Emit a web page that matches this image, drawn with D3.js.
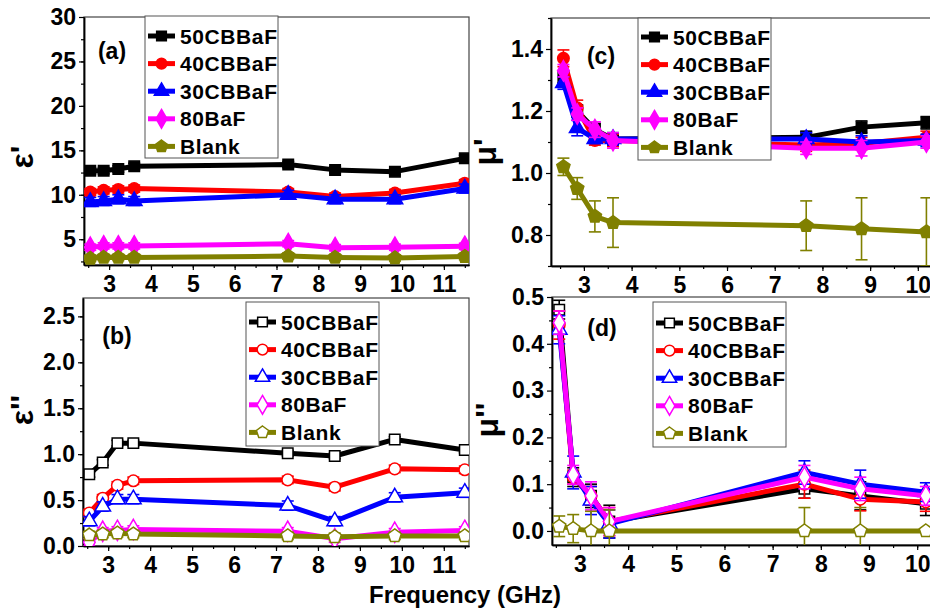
<!DOCTYPE html>
<html>
<head>
<meta charset="utf-8">
<script src="https://cdn.jsdelivr.net/npm/d3@7"></script>
<style>
  body { margin: 0; background: #fff; }
  svg text { font-family: Arial, "Liberation Sans", sans-serif; font-weight: bold; }
</style>
</head>
<body>
<div id="vis"></div>
<script>
// ---- data ----
const seriesNames = ["50CBBaF", "40CBBaF", "30CBBaF", "80BaF", "Blank"];
const seriesColors = ["#000000", "#ff0000", "#0000ff", "#ff00ff", "#808000"];

// frequencies (GHz)
const freqEps = [2.55, 2.87, 3.22, 3.6, 7.28, 8.4, 9.83, 11.5];
const freqMu = [2.57, 2.86, 3.23, 3.61, 7.66, 8.82, 10.18];

// (a) eps'
const epsReal = [
  [12.7, 12.7, 12.9, 13.2, 13.4, 12.8, 12.6, 14.1],
  [10.3, 10.5, 10.6, 10.7, 10.3, 9.8, 10.2, 11.3],
  [9.2, 9.3, 9.5, 9.3, 10.0, 9.5, 9.5, 10.7],
  [4.1, 4.25, 4.25, 4.25, 4.5, 4.05, 4.1, 4.2],
  [2.85, 2.95, 2.95, 2.95, 3.1, 2.95, 2.9, 3.05]
];
const epsRealErr = [
  [0.35, 0.35, 0.35, 0.35, 0.35, 0.35, 0.35, 0.35],
  [0.4, 0.4, 0.4, 0.4, 0.4, 0.4, 0.4, 0.4],
  [0.5, 0.5, 0.5, 0.5, 0.5, 0.5, 0.5, 0.5],
  [0.35, 0.35, 0.35, 0.35, 0.35, 0.35, 0.35, 0.35],
  [0.35, 0.35, 0.35, 0.35, 0.35, 0.35, 0.35, 0.35]
];

// (b) eps''
const epsImag = [
  [0.78, 0.91, 1.12, 1.12, 1.01, 0.98, 1.16, 1.045],
  [0.36, 0.52, 0.66, 0.71, 0.72, 0.64, 0.84, 0.83],
  [0.27, 0.43, 0.51, 0.51, 0.44, 0.27, 0.53, 0.58],
  [0.04, 0.16, 0.17, 0.18, 0.16, 0.08, 0.15, 0.17],
  [0.12, 0.13, 0.14, 0.13, 0.11, 0.10, 0.11, 0.11]
];
const epsImagErr = [
  [0.03, 0.03, 0.03, 0.03, 0.03, 0.03, 0.03, 0.03],
  [0.04, 0.04, 0.04, 0.04, 0.04, 0.04, 0.04, 0.04],
  [0.05, 0.05, 0.05, 0.05, 0.05, 0.05, 0.05, 0.05],
  [0.04, 0.04, 0.04, 0.04, 0.04, 0.04, 0.04, 0.04],
  [0.04, 0.04, 0.04, 0.04, 0.04, 0.04, 0.04, 0.04]
];

// (c) mu'
const muReal = [
  [1.31, 1.20, 1.14, 1.11, 1.115, 1.148, 1.162],
  [1.37, 1.21, 1.105, 1.105, 1.09, 1.095, 1.115],
  [1.29, 1.145, 1.11, 1.11, 1.11, 1.10, 1.105],
  [1.33, 1.19, 1.14, 1.105, 1.08, 1.08, 1.10],
  [1.02, 0.95, 0.86, 0.84, 0.83, 0.82, 0.81]
];
const muRealErr = [
  [0.02, 0.02, 0.02, 0.02, 0.02, 0.02, 0.02],
  [0.027, 0.025, 0.015, 0.02, 0.02, 0.02, 0.02],
  [0.02, 0.025, 0.015, 0.02, 0.02, 0.02, 0.02],
  [0.02, 0.02, 0.025, 0.025, 0.02, 0.025, 0.02],
  [0.028, 0.035, 0.05, 0.08, 0.08, 0.1, 0.11]
];

// (d) mu''
const muImag = [
  [0.473, 0.115, 0.075, 0.02, 0.09, 0.075, 0.058],
  [0.44, 0.115, 0.075, 0.02, 0.10, 0.068, 0.062],
  [0.43, 0.125, 0.065, 0.015, 0.125, 0.10, 0.083],
  [0.445, 0.12, 0.075, 0.02, 0.115, 0.09, 0.075],
  [0.01, 0.005, 0.0, 0.0, 0.0, 0.0, 0.0]
];
const muImagErr = [
  [0.02, 0.02, 0.025, 0.035, 0.02, 0.03, 0.025],
  [0.03, 0.015, 0.02, 0.03, 0.03, 0.025, 0.02],
  [0.03, 0.035, 0.03, 0.03, 0.025, 0.03, 0.02],
  [0.025, 0.02, 0.03, 0.03, 0.025, 0.025, 0.02],
  [0.022, 0.03, 0.042, 0.045, 0.05, 0.05, 0]
];

// ---- layout ----
const W = 930, H = 612;

const symbolPentagon = {
  draw(ctx, size) {
    const r = Math.sqrt(size / 2.378);
    for (let i = 0; i < 5; i++) {
      const a = -Math.PI / 2 + i * 2 * Math.PI / 5;
      if (i === 0) ctx.moveTo(r * Math.cos(a), r * Math.sin(a));
      else ctx.lineTo(r * Math.cos(a), r * Math.sin(a));
    }
    ctx.closePath();
  }
};
const symbolTypes = [d3.symbolSquare, d3.symbolCircle, d3.symbolTriangle, d3.symbolDiamond, symbolPentagon];
const symbolSizes = [110, 105, 105, 120, 115];

const panels = [
  { id: "a", x0: 84, x1: 469, y0: 17, y1: 265, xd: [2.4, 11.6], yd: [2.1, 30],
    yMajor: d3.range(5, 30.1, 5), yMinor: d3.range(2.5, 30, 2.5), yFmt: d3.format("d"),
    xMajor: d3.range(3, 12, 1), xMinor: d3.range(2.5, 11.6, 0.5),
    freq: freqEps, vals: epsReal, errs: epsRealErr, open: false,
    label: "(a)", lx: 112, ly: 59, yl: "\u03b5'", ylx: 33, yly: 157,
    leg: { x: 145, y: 16, w: 133, h: 142, first: 36 } },
  { id: "b", x0: 83, x1: 469, y0: 298, y1: 546, xd: [2.4, 11.6], yd: [0, 2.7],
    yMajor: d3.range(0, 2.51, 0.5), yMinor: d3.range(0.25, 2.7, 0.25), yFmt: d3.format(".1f"),
    xMajor: d3.range(3, 12, 1), xMinor: d3.range(2.5, 11.6, 0.5),
    freq: freqEps, vals: epsImag, errs: epsImagErr, open: true,
    label: "(b)", lx: 117, ly: 344, yl: "\u03b5''", ylx: 33, yly: 410,
    leg: { x: 246, y: 302, w: 133, h: 144, first: 322 } },
  { id: "c", x0: 551, x1: 935, y0: 18, y1: 266, xd: [2.31, 10.36], yd: [0.7, 1.5],
    yMajor: [0.8, 1.0, 1.2, 1.4], yMinor: [0.7, 0.9, 1.1, 1.3, 1.5], yFmt: d3.format(".1f"),
    xMajor: d3.range(3, 11, 1), xMinor: d3.range(2.5, 10.4, 0.5),
    freq: freqMu, vals: muReal, errs: muRealErr, open: false,
    label: "(c)", lx: 601, ly: 64, yl: "\u03bc'", ylx: 496, yly: 152,
    leg: { x: 638, y: 18, w: 133, h: 142, first: 37 } },
  { id: "d", x0: 552, x1: 935, y0: 297, y1: 545, xd: [2.42, 10.37], yd: [-0.03, 0.5],
    yMajor: d3.range(0, 0.51, 0.1), yMinor: d3.range(0.05, 0.5, 0.1), yFmt: d3.format(".1f"),
    xMajor: d3.range(3, 11, 1), xMinor: d3.range(2.5, 10.4, 0.5),
    freq: freqMu, vals: muImag, errs: muImagErr, open: true,
    label: "(d)", lx: 602, ly: 336, yl: "\u03bc''", ylx: 498, yly: 420,
    leg: { x: 653, y: 302, w: 133, h: 145, first: 323 } }
];

const svg = d3.select("#vis").append("svg")
  .attr("width", W).attr("height", H);

svg.append("rect").attr("width", W).attr("height", H).attr("fill", "#fff");

panels.forEach((p) => {
  const x = d3.scaleLinear().domain(p.xd).range([p.x0, p.x1]);
  const y = d3.scaleLinear().domain(p.yd).range([p.y1, p.y0]);
  const g = svg.append("g").attr("class", "panel-" + p.id);

  // clip for data
  svg.append("clipPath").attr("id", "clip-" + p.id)
    .append("rect").attr("x", p.x0).attr("y", p.y0)
    .attr("width", p.x1 - p.x0).attr("height", p.y1 - p.y0);

  // frame
  g.append("rect")
    .attr("x", p.x0).attr("y", p.y0)
    .attr("width", p.x1 - p.x0).attr("height", p.y1 - p.y0)
    .attr("fill", "none").attr("stroke", "#444").attr("stroke-width", 1.2);

  // axes
  const yAxis = g.append("g").attr("transform", "translate(" + p.x0 + ",0)")
    .call(d3.axisLeft(y).tickValues(p.yMajor).tickFormat(p.yFmt).tickSize(5).tickSizeOuter(0).tickPadding(3));
  const yMin = g.append("g").attr("transform", "translate(" + p.x0 + ",0)")
    .call(d3.axisLeft(y).tickValues(p.yMinor).tickFormat("").tickSize(3).tickSizeOuter(0));
  const xAxis = g.append("g").attr("transform", "translate(0," + p.y1 + ")")
    .call(d3.axisBottom(x).tickValues(p.xMajor).tickFormat(d3.format("d")).tickSize(5).tickSizeOuter(0).tickPadding(6));
  const xMin = g.append("g").attr("transform", "translate(0," + p.y1 + ")")
    .call(d3.axisBottom(x).tickValues(p.xMinor).tickFormat("").tickSize(3).tickSizeOuter(0));

  [yAxis, yMin, xAxis, xMin].forEach((a) => {
    a.select(".domain").attr("stroke", "#000").attr("stroke-width", 1.5);
    a.selectAll(".tick line").attr("stroke", "#000").attr("stroke-width", 1.2);
    a.selectAll(".tick text").attr("font-size", 23).attr("fill", "#000")
      .attr("font-family", "Arial, 'Liberation Sans', sans-serif").attr("font-weight", "bold");
  });

  // data
  const data = g.append("g").attr("clip-path", "url(#clip-" + p.id + ")");
  const line = d3.line().x((d) => x(d.f)).y((d) => y(d.v));

  seriesNames.forEach((name, si) => {
    const pts = p.freq.map((f, i) => ({ f: f, v: p.vals[si][i], e: p.errs[si][i] }));
    const col = seriesColors[si];
    const sg = data.append("g").attr("class", "series");

    // error bars
    const eb = sg.selectAll("g.err").data(pts.filter((d) => d.e > 0)).join("g").attr("class", "err")
      .attr("stroke", col).attr("stroke-width", 1.6);
    eb.append("line")
      .attr("x1", (d) => x(d.f)).attr("x2", (d) => x(d.f))
      .attr("y1", (d) => y(d.v - d.e)).attr("y2", (d) => y(d.v + d.e));
    eb.append("line")
      .attr("x1", (d) => x(d.f) - 6).attr("x2", (d) => x(d.f) + 6)
      .attr("y1", (d) => y(d.v + d.e)).attr("y2", (d) => y(d.v + d.e));
    eb.append("line")
      .attr("x1", (d) => x(d.f) - 6).attr("x2", (d) => x(d.f) + 6)
      .attr("y1", (d) => y(d.v - d.e)).attr("y2", (d) => y(d.v - d.e));

    sg.append("path").datum(pts)
      .attr("d", line)
      .attr("fill", "none").attr("stroke", col).attr("stroke-width", 5)
      .attr("stroke-linejoin", "round");

    sg.selectAll("path.mk").data(pts).join("path").attr("class", "mk")
      .attr("transform", (d) => "translate(" + x(d.f) + "," + y(d.v) + ")")
      .attr("d", d3.symbol().type(symbolTypes[si]).size(symbolSizes[si]))
      .attr("fill", p.open ? "#fff" : col)
      .attr("stroke", col).attr("stroke-width", 1.5);
  });

  // panel label
  g.append("text").attr("x", p.lx).attr("y", p.ly)
    .attr("text-anchor", "middle").attr("font-size", 23).text(p.label);

  // y-axis title
  g.append("text")
    .attr("transform", "translate(" + p.ylx + "," + p.yly + ") rotate(-90)")
    .attr("text-anchor", "middle").attr("font-size", 32).text(p.yl);

  // legend
  const L = p.leg;
  const lg = g.append("g");
  lg.append("rect").attr("x", L.x).attr("y", L.y).attr("width", L.w).attr("height", L.h)
    .attr("fill", "#fff").attr("stroke", "#555").attr("stroke-width", 1);
  seriesNames.forEach((name, si) => {
    const cy = L.first + si * 27.6;
    const col = seriesColors[si];
    lg.append("line").attr("x1", L.x + 3).attr("x2", L.x + 30)
      .attr("y1", cy).attr("y2", cy)
      .attr("stroke", col).attr("stroke-width", 5);
    lg.append("path")
      .attr("transform", "translate(" + (L.x + 16.5) + "," + cy + ")")
      .attr("d", d3.symbol().type(symbolTypes[si]).size(symbolSizes[si] * 0.85))
      .attr("fill", p.open ? "#fff" : col).attr("stroke", col).attr("stroke-width", 1.5);
    lg.append("text").attr("x", L.x + 35).attr("y", cy + 7.5)
      .attr("font-size", 21).attr("letter-spacing", 0.6).text(name);
  });
});

// shared x-axis title
svg.append("text").attr("x", 465).attr("y", 603)
  .attr("text-anchor", "middle").attr("font-size", 24).text("Frequency (GHz)");
</script>
</body>
</html>
